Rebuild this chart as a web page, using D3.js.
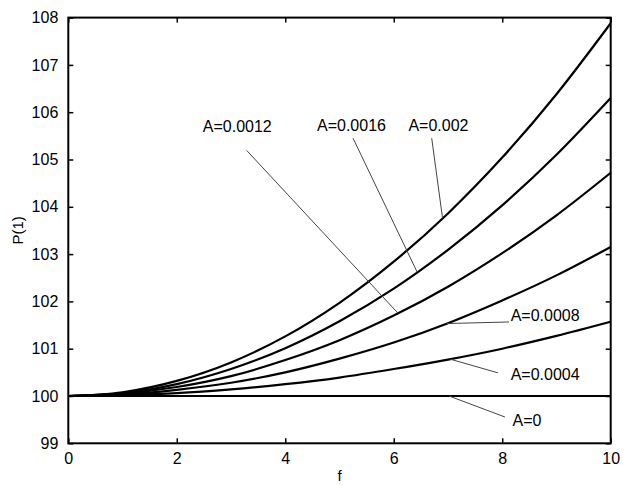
<!DOCTYPE html>
<html>
<head>
<meta charset="utf-8">
<script src="https://cdn.jsdelivr.net/npm/d3@7"></script>
<style>
  html, body { margin: 0; padding: 0; background: #fff; }
  svg text { font-family: "Liberation Sans", Arial, Helvetica, sans-serif; fill: #000; }
</style>
</head>
<body>
<svg id="chart" width="625" height="485"></svg>
<script>
// Sample points along f
const fValues = [0, 1, 2, 3, 4, 5, 6, 7, 8, 9, 10];

// P(1) for each amplitude A
const seriesA0     = [100, 100, 100, 100, 100, 100, 100, 100, 100, 100, 100];
const seriesA0004  = [100, 100.02, 100.06, 100.14, 100.25, 100.39, 100.57, 100.77, 101.00, 101.27, 101.57];
const seriesA0008  = [100, 100.03, 100.13, 100.28, 100.50, 100.79, 101.13, 101.54, 102.02, 102.55, 103.15];
const seriesA0012  = [100, 100.05, 100.19, 100.42, 100.76, 101.18, 101.70, 102.31, 103.02, 103.82, 104.72];
const seriesA0016  = [100, 100.06, 100.25, 100.57, 101.01, 101.58, 102.27, 103.09, 104.03, 105.10, 106.30];
const seriesA002   = [100, 100.08, 100.32, 100.71, 101.26, 101.97, 102.84, 103.86, 105.04, 106.38, 107.88];

const seriesNames = ["A=0", "A=0.0004", "A=0.0008", "A=0.0012", "A=0.0016", "A=0.002"];
const seriesValues = [seriesA0, seriesA0004, seriesA0008, seriesA0012, seriesA0016, seriesA002];

// Axis ticks
const xTicks = [0, 2, 4, 6, 8, 10];
const yTicks = [99, 100, 101, 102, 103, 104, 105, 106, 107, 108];

// Callouts: label anchor (f, P), leader start (f, P), leader end f on the series
const calloutSeries = [3, 4, 5, 2, 1, 0];
const calloutLabelF = [2.48, 4.585, 6.27, 8.156, 8.156, 8.19];
const calloutLabelP = [105.59, 105.61, 105.60, 101.59, 100.34, 99.376];
const calloutStartF = [3.29, 5.25, 6.70, 8.125, 7.92, 8.05];
const calloutStartP = [105.19, 105.45, 105.45, 101.565, 100.49, 99.556];
const calloutEndF   = [6.08, 6.43, 6.90, 6.98, 7.04, 7.02];

const svg = d3.select("#chart");
const plotLeft = 68.3, plotRight = 610.7, plotTop = 17.6, plotBottom = 443.3;

const x = d3.scaleLinear().domain([0, 10]).range([plotLeft, plotRight]);
const y = d3.scaleLinear().domain([99, 108]).range([plotBottom, plotTop]);

// value of a series at arbitrary f (linear between samples)
function valueAt(vals, f) {
  const interp = d3.scaleLinear().domain(fValues).range(vals);
  return interp(f);
}

// Curves
const line = d3.line()
  .x((d, i) => x(fValues[i]))
  .y(d => y(d))
  .curve(d3.curveMonotoneX);

svg.append("g").selectAll("path")
  .data(seriesValues)
  .join("path")
  .attr("d", d => line(d))
  .attr("fill", "none")
  .attr("stroke", "#000")
  .attr("stroke-width", 2.2)
  .attr("stroke-linejoin", "round");

// Axes with inward ticks on all four sides
function styleAxis(g) {
  g.select(".domain").remove();
  g.selectAll(".tick line").attr("stroke", "#000").attr("stroke-width", 1.5);
  g.selectAll(".tick text").attr("font-size", 16).attr("fill", "#000")
    .style("font-family", "'Liberation Sans', Arial, sans-serif");
}

svg.append("g")
  .attr("transform", `translate(0,${plotBottom})`)
  .call(d3.axisBottom(x).tickValues(xTicks).tickSizeInner(-5).tickSizeOuter(0).tickPadding(9))
  .call(styleAxis);

svg.append("g")
  .attr("transform", `translate(0,${plotTop})`)
  .call(d3.axisTop(x).tickValues(xTicks).tickSizeInner(-5).tickSizeOuter(0).tickFormat(""))
  .call(styleAxis);

svg.append("g")
  .attr("transform", `translate(${plotLeft},0)`)
  .call(d3.axisLeft(y).tickValues(yTicks).tickSizeInner(-5).tickSizeOuter(0).tickPadding(10))
  .call(styleAxis);

svg.append("g")
  .attr("transform", `translate(${plotRight},0)`)
  .call(d3.axisRight(y).tickValues(yTicks).tickSizeInner(-5).tickSizeOuter(0).tickFormat(""))
  .call(styleAxis);

// Frame
svg.append("rect")
  .attr("x", plotLeft).attr("y", plotTop)
  .attr("width", plotRight - plotLeft).attr("height", plotBottom - plotTop)
  .attr("fill", "none").attr("stroke", "#000").attr("stroke-width", 2);

// Callout leaders and labels
const callouts = calloutSeries.map((s, i) => ({
  name: seriesNames[s],
  lx: calloutLabelF[i], ly: calloutLabelP[i],
  sx: calloutStartF[i], sy: calloutStartP[i],
  ex: calloutEndF[i], ey: valueAt(seriesValues[s], calloutEndF[i])
}));

svg.append("g").selectAll("line")
  .data(callouts)
  .join("line")
  .attr("x1", d => x(d.sx)).attr("y1", d => y(d.sy))
  .attr("x2", d => x(d.ex)).attr("y2", d => y(d.ey))
  .attr("stroke", "#444").attr("stroke-width", 1);

svg.append("g").selectAll("text")
  .data(callouts)
  .join("text")
  .attr("x", d => x(d.lx)).attr("y", d => y(d.ly))
  .attr("font-size", 16)
  .text(d => d.name);

// Axis titles
svg.append("text")
  .attr("x", (plotLeft + plotRight) / 2).attr("y", 481)
  .attr("text-anchor", "middle").attr("font-size", 15)
  .text("f");

svg.append("text")
  .attr("transform", `translate(23,${(plotTop + plotBottom) / 2}) rotate(-90)`)
  .attr("text-anchor", "middle").attr("font-size", 15)
  .text("P(1)");
</script>
</body>
</html>
